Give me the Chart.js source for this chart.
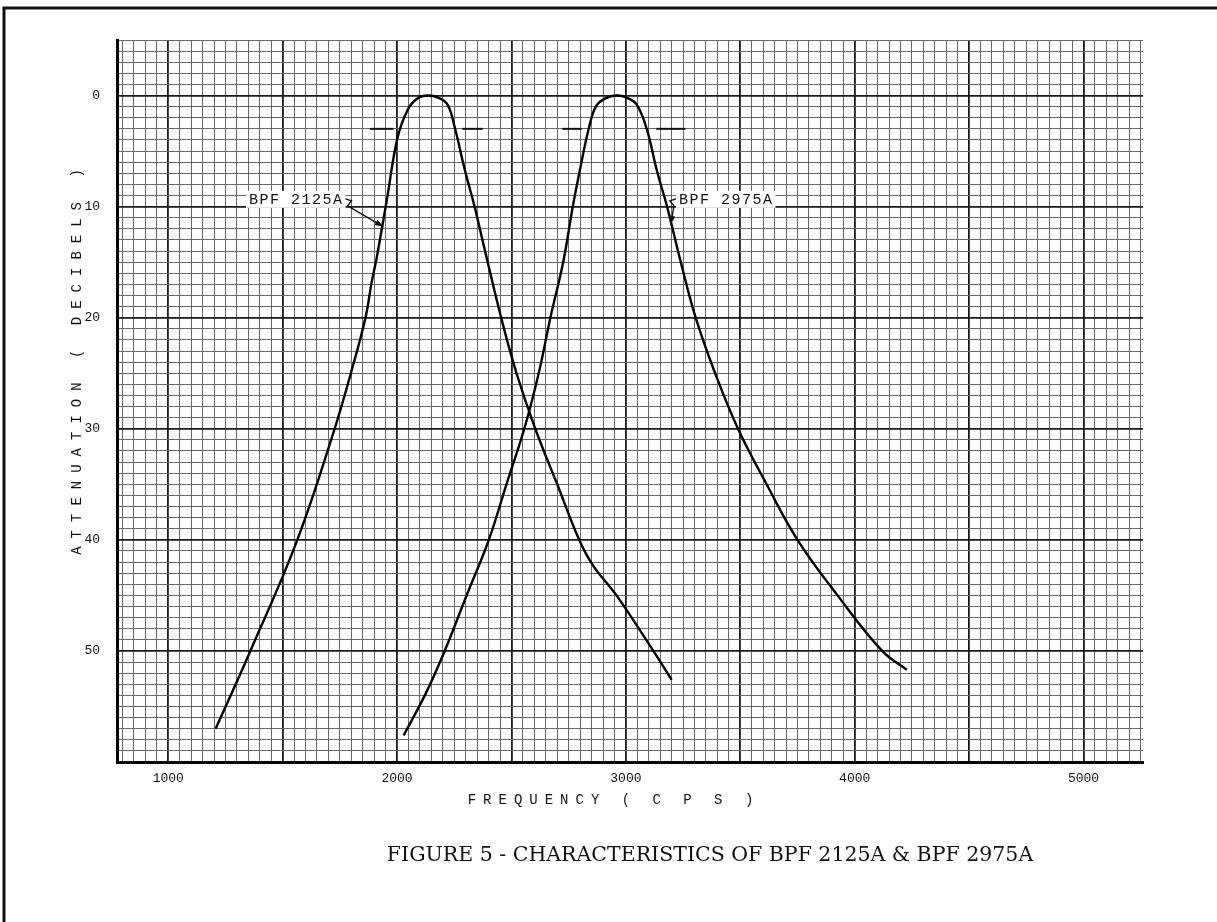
<!DOCTYPE html>
<html>
<head>
<meta charset="utf-8">
<script src="https://cdn.jsdelivr.net/npm/chart.js@4.4.1/dist/chart.umd.min.js"></script>
<style>
  body { margin: 0; background: #fff; }
  #wrap { width: 1217px; height: 922px; }
</style>
</head>
<body>
<div id="wrap"><canvas id="bpf_chart"></canvas></div>
<script>
// values (frequency in cps, attenuation in dB)
const freq2125 = [1207, 1359, 1564, 1727, 1798, 1862, 1889, 1911, 1956, 2001, 2046, 2090, 2134, 2180, 2220, 2250, 2295, 2340, 2380, 2455, 2522, 2604, 2700, 2796, 2856, 2959, 3120, 3200];
const atten2125 = [57, 50, 40, 30, 25, 20, 16.8, 14.6, 9.3, 3.9, 1.3, 0.25, 0, 0.2, 0.8, 2.7, 6.6, 10.1, 13.6, 20, 25, 30, 35, 40, 42.3, 45, 50, 52.6];

const freq2975 = [2029, 2126, 2208, 2306, 2401, 2478, 2556, 2619, 2670, 2726, 2768, 2797, 2841, 2870, 2910, 2959, 3005, 3047, 3091, 3136, 3180, 3240, 3305, 3390, 3490, 3615, 3750, 3925, 4120, 4228];
const atten2975 = [57.6, 53.8, 50, 44.9, 40, 35, 30, 25, 20, 15, 10, 6.9, 2.7, 0.95, 0.25, 0, 0.2, 0.8, 3.0, 6.8, 10, 15, 20, 25, 30, 35, 40, 45, 50, 51.7];

// short -3 dB marks beside each passband
const markStart = [1881, 2285, 2722, 3133];
const markEnd = [1984, 2374, 2807, 3260];
const markLevel = 3;

const xLabels = [1000, 2000, 3000, 4000, 5000];
const yLabels = [0, 10, 20, 30, 40, 50];

const curveNames = ['BPF 2125A', 'BPF 2975A'];
const caption = 'FIGURE 5 - CHARACTERISTICS OF BPF 2125A & BPF 2975A';

function toPoints(xs, ys) {
    return xs.map((x, i) => ({ x: x, y: ys[i] }));
}

const datasets = [
    { label: curveNames[0], data: toPoints(freq2125, atten2125) },
    { label: curveNames[1], data: toPoints(freq2975, atten2975) }
].map(d => Object.assign(d, {
    borderColor: '#000', borderWidth: 2.4, pointRadius: 0,
    tension: 0.4, fill: false
}));

markStart.forEach((s, i) => {
    datasets.push({
        label: 'mark' + i,
        data: [{ x: s, y: markLevel }, { x: markEnd[i], y: markLevel }],
        borderColor: '#111', borderWidth: 2, pointRadius: 0
    });
});

// labels with the little arrows, in chart units
const callouts = [
    { text: curveNames[0], x: 1766, y: 9.3, align: 'right', tipX: 1940, tipY: 11.8 },
    { text: curveNames[1], x: 3232, y: 9.3, align: 'left', tipX: 3196, tipY: 11.6 }
];

const mono = "'Liberation Mono', 'DejaVu Sans Mono', monospace";

const paperPlugin = {
    id: 'paper',
    beforeDraw(chart) {
        const c = chart.ctx;
        c.save();
        c.fillStyle = '#fff';
        c.fillRect(0, 0, chart.width, chart.height);
        c.restore();
    },
    afterDatasetsDraw(chart) {
        const c = chart.ctx;
        const xs = chart.scales.x, ys = chart.scales.y;
        c.save();
        c.font = '15px ' + mono;
        c.letterSpacing = '1.5px';
        c.textBaseline = 'middle';
        callouts.forEach(a => {
            const px = xs.getPixelForValue(a.x);
            const py = ys.getPixelForValue(a.y);
            const w = c.measureText(a.text).width;
            const left = a.align === 'right' ? px - w : px;
            c.fillStyle = '#fff';
            c.fillRect(left - 3, py - 8, w + 5, 17);
            c.fillStyle = '#111';
            c.textAlign = 'left';
            c.fillText(a.text, left, py + 1);
            // little dash, squiggle, then arrow to the curve
            const tx = xs.getPixelForValue(a.tipX);
            const ty = ys.getPixelForValue(a.tipY);
            const dir = a.align === 'right' ? 1 : -1;
            const sx = a.align === 'right' ? px + 2 : px - 3;
            c.strokeStyle = '#111';
            c.lineWidth = 1.4;
            c.beginPath();
            c.moveTo(sx, py);
            c.lineTo(sx + dir * 6, py + 2);
            c.lineTo(sx + dir * 2, py + 7);
            c.lineTo(tx, ty);
            c.stroke();
            const ang = Math.atan2(ty - (py + 7), tx - (sx + dir * 2));
            c.beginPath();
            c.moveTo(tx, ty);
            c.lineTo(tx - 9 * Math.cos(ang - 0.35), ty - 9 * Math.sin(ang - 0.35));
            c.lineTo(tx - 9 * Math.cos(ang + 0.35), ty - 9 * Math.sin(ang + 0.35));
            c.closePath();
            c.fillStyle = '#111';
            c.fill();
        });
        c.restore();
    },
    afterDraw(chart) {
        const c = chart.ctx;
        const area = chart.chartArea;
        c.save();
        // frame of the page
        c.strokeStyle = '#111';
        c.lineWidth = 3;
        c.beginPath();
        c.moveTo(4, chart.height);
        c.lineTo(4, 8);
        c.lineTo(chart.width, 8);
        c.stroke();
        // typed axis titles, spaced out
        c.fillStyle = '#111';
        c.font = '14px ' + mono;
        c.letterSpacing = '7px';
        c.textAlign = 'center';
        c.textBaseline = 'middle';
        c.fillText('FREQUENCY ( C P S )', (area.left + area.right) / 2 - 16, area.bottom + 38);
        c.save();
        c.translate(77, 358);
        c.rotate(-Math.PI / 2);
        c.letterSpacing = '8px';
        c.fillText('ATTENUATION ( DECIBELS )', 0, 0);
        c.restore();
        // figure caption
        c.letterSpacing = '0px';
        c.font = "20.5px 'DejaVu Serif', 'Liberation Serif', serif";
        c.fillText(caption, 710, 856);
        c.restore();
    }
};

function gridTicks(scale, step) {
    const ticks = [];
    const first = Math.ceil(scale.min / step) * step;
    for (let v = first; v <= scale.max + 1e-9; v += step) {
        ticks.push({ value: Math.round(v * 100) / 100 });
    }
    scale.ticks = ticks;
}

new Chart(document.getElementById('bpf_chart'), {
    type: 'line',
    data: { datasets: datasets },
    plugins: [paperPlugin],
    options: {
        responsive: true,
        maintainAspectRatio: false,
        animation: false,
        layout: { padding: { left: 0, top: 40, right: 74, bottom: 0 } },
        plugins: {
            legend: { display: false },
            tooltip: { enabled: false }
        },
        scales: {
            x: {
                type: 'linear',
                min: 776,
                max: 5260,
                afterBuildTicks: s => gridTicks(s, 50),
                afterFit: s => { s.height = 160; },
                border: { display: true, color: '#000', width: 3 },
                grid: {
                    drawTicks: false,
                    color: ctx => (ctx.tick && ctx.tick.value % 500 === 0) ? '#1a1a1a' : '#666',
                    lineWidth: ctx => (ctx.tick && ctx.tick.value % 500 === 0) ? 1.8 : 1
                },
                ticks: {
                    autoSkip: false,
                    maxRotation: 0,
                    padding: 9,
                    color: '#111',
                    font: { family: mono, size: 13 },
                    callback: v => xLabels.includes(v) ? String(v) : ''
                }
            },
            y: {
                type: 'linear',
                reverse: true,
                min: -5,
                max: 60,
                afterBuildTicks: s => gridTicks(s, 1),
                afterFit: s => { s.width = 117; },
                border: { display: true, color: '#000', width: 3 },
                grid: {
                    drawTicks: false,
                    color: ctx => (ctx.tick && ctx.tick.value % 10 === 0) ? '#1a1a1a' : '#666',
                    lineWidth: ctx => (ctx.tick && ctx.tick.value % 10 === 0) ? 1.8 : 1
                },
                ticks: {
                    autoSkip: false,
                    padding: 17,
                    color: '#111',
                    font: { family: mono, size: 13 },
                    callback: v => yLabels.includes(v) ? String(v) : ''
                }
            }
        }
    }
});
</script>
</body>
</html>
